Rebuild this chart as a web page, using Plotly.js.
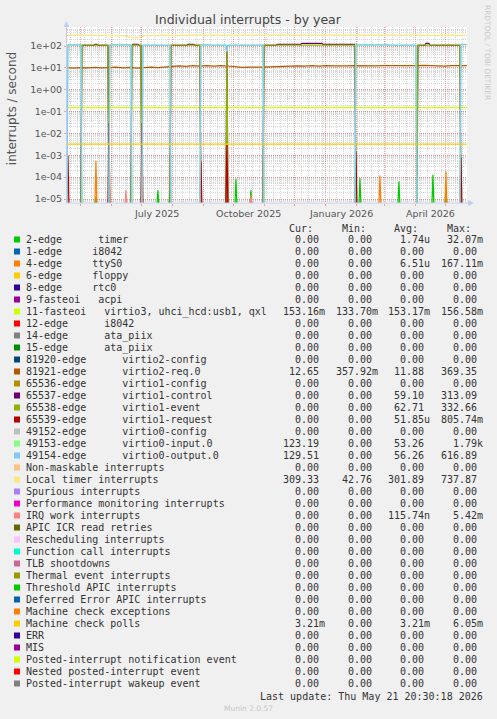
<!DOCTYPE html>
<html><head><meta charset="utf-8">
<script src="https://cdn.plot.ly/plotly-3.0.1.min.js"></script>
<style>html,body{margin:0;padding:0;background:#f0f0f0;}#chart{width:497px;height:719px;}</style>
</head><body><div id="chart"></div>
<script>
// ---------------- DATA ----------------
const RANGE_START = "2025-04-17 02:00", RANGE_END = "2026-05-22 02:00";
const DATA_START = "2025-04-16 20:30", DATA_END = "2026-05-21 20:30";

const seriesLabels = [
 "2-edge      timer","1-edge     i8042","4-edge     ttyS0","6-edge     floppy","8-edge     rtc0",
 "9-fasteoi   acpi","11-fasteoi   virtio3, uhci_hcd:usb1, qxl","12-edge      i8042","14-edge      ata_piix","15-edge      ata_piix",
 "81920-edge      virtio2-config","81921-edge      virtio2-req.0","65536-edge      virtio1-config","65537-edge      virtio1-control","65538-edge      virtio1-event",
 "65539-edge      virtio1-request","49152-edge      virtio0-config","49153-edge      virtio0-input.0","49154-edge      virtio0-output.0","Non-maskable interrupts",
 "Local timer interrupts","Spurious interrupts","Performance monitoring interrupts","IRQ work interrupts","APIC ICR read retries",
 "Rescheduling interrupts","Function call interrupts","TLB shootdowns","Thermal event interrupts","Threshold APIC interrupts",
 "Deferred Error APIC interrupts","Machine check exceptions","Machine check polls","ERR","MIS",
 "Posted-interrupt notification event","Nested posted-interrupt event","Posted-interrupt wakeup event"];

const seriesColors = ["#00CC00","#0066B3","#FF8000","#FFCC00","#330099","#990099","#CCFF00","#FF0000","#808080","#008F00",
 "#00487D","#B35A00","#B38F00","#6B006B","#8FB300","#B30000","#BEBEBE","#80FF80","#80C9FF","#FFC080",
 "#FFE680","#AA80FF","#EE00CC","#FF8080","#666600","#FFBFFF","#00FFCC","#CC6699","#999900","#00CC00",
 "#0066B3","#FF8000","#FFCC00","#330099","#990099","#CCFF00","#FF0000","#808080"];

const curVals = ["0.00","0.00","0.00","0.00","0.00","0.00","153.16m","0.00","0.00","0.00","0.00","12.65","0.00","0.00","0.00","0.00","0.00","123.19","129.51","0.00","309.33","0.00","0.00","0.00","0.00","0.00","0.00","0.00","0.00","0.00","0.00","0.00","3.21m","0.00","0.00","0.00","0.00","0.00"];
const minVals = ["0.00","0.00","0.00","0.00","0.00","0.00","133.70m","0.00","0.00","0.00","0.00","357.92m","0.00","0.00","0.00","0.00","0.00","0.00","0.00","0.00","42.76","0.00","0.00","0.00","0.00","0.00","0.00","0.00","0.00","0.00","0.00","0.00","0.00","0.00","0.00","0.00","0.00","0.00"];
const avgVals = ["1.74u","0.00","6.51u","0.00","0.00","0.00","153.17m","0.00","0.00","0.00","0.00","11.88","0.00","59.10","62.71","51.85u","0.00","53.26","56.26","0.00","301.89","0.00","0.00","115.74n","0.00","0.00","0.00","0.00","0.00","0.00","0.00","0.00","3.21m","0.00","0.00","0.00","0.00","0.00"];
const maxVals = ["32.07m","0.00","167.11m","0.00","0.00","0.00","156.58m","0.00","0.00","0.00","0.00","369.35","0.00","313.09","332.66","805.74m","0.00","1.79k","616.89","0.00","737.87","0.00","0.00","5.42m","0.00","0.00","0.00","0.00","0.00","0.00","0.00","0.00","6.05m","0.00","0.00","0.00","0.00","0.00"];

// weekly samples for the continuous series
const weekDates = ["2025-04-16","2025-04-24","2025-05-01","2025-05-08","2025-05-15","2025-05-22","2025-05-29","2025-06-05","2025-06-12","2025-06-19",
 "2025-06-26","2025-07-03","2025-07-10","2025-07-17","2025-07-24","2025-07-31","2025-08-07","2025-08-14","2025-08-21","2025-08-28",
 "2025-09-04","2025-09-11","2025-09-18","2025-09-25","2025-10-02","2025-10-09","2025-10-16","2025-10-23","2025-10-30","2025-11-06",
 "2025-11-13","2025-11-20","2025-11-27","2025-12-04","2025-12-11","2025-12-18","2025-12-25","2026-01-01","2026-01-08","2026-01-15",
 "2026-01-22","2026-01-29","2026-02-05","2026-02-12","2026-02-19","2026-02-26","2026-03-05","2026-03-12","2026-03-19","2026-03-26",
 "2026-04-02","2026-04-09","2026-04-16","2026-04-23","2026-04-30","2026-05-07","2026-05-14","2026-05-21 20:30"];
const localTimer = [322,318,321,316,319,317,300,292,302,255, 238,292,306,311,314,309,317,312,316,319,
 315,321,316,305,311,316,318,313,316,318, 320,316,319,321,315,318,320,317,315,319,
 321,316,318,320,317,315,319,321,316,318, 314,311,302,310,315,318,312,309];
const virtio2Req = [10.5,9.8,10.4,9.9,10.6,9.9,10.3,10.8,10.1,10.5, 9.7,10.6,10.9,10.4,11.2,11.8,12.3,11.6,12.8,12.1,
 12.6,11.9,12.7,12.2,11.3,10.6,10.9,10.5,10.8,11.2, 11.6,12.0,11.7,12.3,12.0,12.6,12.2,12.8,12.4,12.9,
 12.5,12.7,12.4,12.6,12.3,12.7,12.5,12.8,12.4,12.9, 12.6,13.1,12.5,12.9,11.9,12.8,12.3,12.65];

const timerX = ["2025-04-16 20:30","2025-05-15","2025-05-16","2025-05-17","2025-05-28","2025-05-29","2025-05-30","2025-07-16","2025-07-17","2025-07-18",
 "2025-07-28","2025-07-29","2025-07-30","2025-10-02","2025-10-03","2025-10-04","2025-10-17","2025-10-18","2025-10-19","2026-02-03",
 "2026-02-04","2026-02-05","2026-03-14","2026-03-15","2026-03-16","2026-04-17","2026-04-18","2026-04-19","2026-04-30","2026-05-01",
 "2026-05-02","2026-05-21 20:30"];
const timerY = [0,0,1.3e-5,0,0,1.4e-5,0,0,2.5e-5,0, 0,2.4e-5,0,0,8.5e-5,0,0,2.5e-5,0,0, 9e-5,0,0,6.3e-5,0,0,1.3e-4,0,0,2e-5, 0,0];

const ttyX = ["2025-04-16 20:30","2025-05-15","2025-05-16","2025-05-17","2026-02-23","2026-02-24","2026-02-25","2026-04-30","2026-05-01","2026-05-02","2026-05-21 20:30"];
const ttyY = [0,0,5.5e-4,0,0,1.2e-4,0,0,1.8e-4,0,0];

const irqWorkX = ["2025-04-16 20:30","2025-06-14","2025-06-15","2025-06-16","2025-10-17","2025-10-18","2025-10-19","2026-05-21 20:30"];
const irqWorkY = [0,0,2.5e-5,0,0,1.5e-5,0,0];

const requestX = ["2025-04-16 20:30","2025-04-17","2025-04-18","2025-04-19","2025-05-28","2025-05-29","2025-05-30","2025-06-30","2025-07-01","2025-07-02",
 "2025-08-28","2025-08-29","2025-08-30","2025-09-23","2025-09-24","2025-09-25","2026-01-30","2026-01-31","2026-02-01","2026-05-15",
 "2026-05-16","2026-05-17","2026-05-21 20:30"];
const requestY = [0,0,1e-3,0,0,0.03,0,0,0.03,0, 0,5e-4,0,0,3e-3,0,0,1.5e-3,0,0, 8e-4,0,0];

const fasteoiX = [DATA_START, DATA_END];
const fasteoiY = [0.1532, 0.1532];
const mcpX = [DATA_START, DATA_END];
const mcpY = [0.00321, 0.00321];

const inputX = ["2025-04-16 20:30","2025-04-17","2025-04-18","2025-05-01","2025-05-02","2025-05-29","2025-05-30","2025-06-20","2025-06-21","2025-07-01",
 "2025-07-02","2025-07-29","2025-07-30","2025-08-28","2025-08-29","2025-09-07","2025-09-08","2025-09-23","2025-09-24","2025-09-25",
 "2025-10-30","2025-10-31","2026-01-30","2026-01-31","2026-03-04","2026-03-05","2026-04-01","2026-04-02","2026-05-15","2026-05-16","2026-05-21 20:30"];
const inputY = [0,0,115,115,0,0,115,115,0,0, 106,106,0,0,115,115,106,106,55,106, 106,0,0,115,115,106,106,0,0,112,112];

const outputX = ["2025-04-16 20:30","2025-04-17","2025-04-18","2025-05-01","2025-05-02","2025-05-29","2025-05-30","2025-06-20","2025-06-21","2025-07-01",
 "2025-07-02","2025-07-29","2025-07-30","2025-08-28","2025-08-29","2025-09-23","2025-09-24","2025-09-25","2025-10-30","2025-10-31",
 "2026-01-30","2026-01-31","2026-04-01","2026-04-02","2026-05-15","2026-05-16","2026-05-21 20:30"];
const outputY = [0,0,110,110,0,0,110,110,0,0, 110,110,0,0,110,110,60,110,110,0, 0,110,110,0,0,118,118];

const eventX = ["2025-04-16 20:30","2025-05-01","2025-05-02","2025-05-28","2025-05-29","2025-06-20","2025-06-21","2025-06-30","2025-07-01","2025-07-29",
 "2025-07-30","2025-08-28","2025-08-29","2025-09-23","2025-09-24","2025-09-25","2025-10-30","2025-10-31","2026-01-30","2026-01-31",
 "2026-04-02","2026-04-03","2026-05-15","2026-05-16","2026-05-21 20:30"];
const eventY = [0,0,110,110,0,0,110,110,0,0, 110,110,0,0,105,0,0,110,110,0, 0,110,110,0,0];

const controlX = ["2025-04-16 20:30","2025-05-01","2025-05-02","2025-05-14","2025-05-15","2025-05-17","2025-05-18","2025-05-28","2025-05-29","2025-06-20",
 "2025-06-21","2025-06-22","2025-06-27","2025-06-28","2025-06-30","2025-07-01","2025-07-29","2025-07-30","2025-08-15","2025-08-16",
 "2025-08-22","2025-08-23","2025-08-28","2025-08-29","2025-09-23","2025-09-24","2025-09-25","2025-10-30","2025-10-31","2025-11-12",
 "2025-11-13","2025-12-07","2025-12-08","2025-12-28","2025-12-29","2026-01-30","2026-01-31","2026-04-02","2026-04-03","2026-04-10",
 "2026-04-11","2026-04-14","2026-04-15","2026-05-15","2026-05-16","2026-05-21 20:30"];
const controlY = [0,0,106,106,120,120,106,106,0,0, 106,120,120,106,106,0,0,106,106,120, 120,106,106,0,0,100,0,0,106,106,
 120,120,133,133,120,120,0,0,106,106, 133,133,106,106,0,0];

const yTickVals = [1e-5,1e-4,1e-3,1e-2,1e-1,1,10,100];
const yTickText = ["1e-05","1e-04","1e-03","1e-02","1e-01","1e+00","1e+01","1e+02"];
const xLabelDates = ["2025-07-16","2025-10-16","2026-01-16","2026-04-16"];
const xLabelText = ["July 2025","October 2025","January 2026","April 2026"];

// ---------------- BUILD ----------------
const seriesData = {
  0:[timerX,timerY], 2:[ttyX,ttyY], 6:[fasteoiX,fasteoiY], 11:[weekDates,virtio2Req],
  13:[controlX,controlY], 14:[eventX,eventY], 15:[requestX,requestY], 17:[inputX,inputY],
  18:[outputX,outputY], 20:[weekDates,localTimer], 23:[irqWorkX,irqWorkY], 32:[mcpX,mcpY]
};
const LOG_FLOOR = 5e-6; // zero is drawn below the bottom edge on the log scale (like rrdtool)
const traces = seriesLabels.map((lab,i)=>{
  const d = seriesData[i] || [[DATA_START,DATA_END],[0,0]];
  return {type:'scatter', mode:'lines', x:d[0], y:d[1].map(v=> v>0 ? v : LOG_FLOOR),
    line:{color:seriesColors[i], width:1.25}, hoverinfo:'skip', showlegend:false, name:lab};
});

const ML=67, MT=27, PW=400, PH=176;
const px = p => (p-ML)/PW;
const py = p => 1-(p-MT)/PH;

const annotations = [];
const shapes = [];
const monoFont = {family:'DejaVu Sans Mono', size:10, color:'#333'};
const nb = s => s.replace(/ /g,'\u00a0');

// x tick labels
xLabelDates.forEach((d,i)=>annotations.push({xref:'x', yref:'paper', x:d, y:py(213), text:xLabelText[i],
  showarrow:false, xanchor:'center', yanchor:'middle', borderpad:0, borderwidth:0,
  font:{family:'DejaVu Sans', size:9.5, color:'#555'}}));

// legend header
const colEnds = [318.5, 372, 424.3, 477];
["Cur:","Min:","Avg:","Max:"].forEach((h,c)=>annotations.push({xref:'paper', yref:'paper', x:px(colEnds[c]-6), y:py(228.5),
  text:h, showarrow:false, xanchor:'right', yanchor:'middle', borderpad:0, borderwidth:0, font:monoFont}));

const cols = [curVals,minVals,avgVals,maxVals];
seriesLabels.forEach((lab,i)=>{
  const ry = 239.5 + 12*i;
  shapes.push({type:'rect', xref:'paper', yref:'paper', x0:px(14), x1:px(20), y0:py(ry-3), y1:py(ry+3),
    fillcolor:seriesColors[i], line:{width:0}});
  annotations.push({xref:'paper', yref:'paper', x:px(26), y:py(ry), text:nb(lab), showarrow:false,
    xanchor:'left', yanchor:'middle', borderpad:0, borderwidth:0, font:monoFont});
  cols.forEach((arr,c)=>{
    const v = arr[i];
    const hasUnit = /[a-zA-Z]$/.test(v);
    annotations.push({xref:'paper', yref:'paper', x:px(colEnds[c] + (hasUnit?6:0)), y:py(ry), text:v, showarrow:false,
      xanchor:'right', yanchor:'middle', borderpad:0, borderwidth:0, font:monoFont});
  });
});

annotations.push({xref:'paper', yref:'paper', x:px(483), y:py(696), text:nb('Last update: Thu May 21 20:30:18 2026'),
  showarrow:false, xanchor:'right', yanchor:'middle', borderpad:0, borderwidth:0, font:monoFont});
annotations.push({xref:'paper', yref:'paper', x:px(248), y:py(708.5), text:'Munin 2.0.57',
  showarrow:false, xanchor:'center', yanchor:'middle', borderpad:0, borderwidth:0, font:{family:'DejaVu Sans', size:7.5, color:'#c8c8c8'}});
annotations.push({xref:'paper', yref:'paper', x:px(487.5), y:py(52.5), text:'RRDTOOL / TOBI OETIKER', textangle:90,
  showarrow:false, xanchor:'center', yanchor:'middle', borderpad:0, borderwidth:0, font:{family:'DejaVu Sans', size:7.4, color:'#c8c8c8'}});
annotations.push({xref:'paper', yref:'paper', x:px(11.7), y:py(108.5), text:'interrupts / second', textangle:-90,
  showarrow:false, xanchor:'center', yanchor:'middle', borderpad:0, borderwidth:0, font:{family:'DejaVu Sans', size:12, color:'#555'}});

// rrdtool-style axes with arrows
const axisCol = '#c6cbe8';
shapes.push({type:'line', xref:'paper', yref:'paper', x0:px(66.5), x1:px(470), y0:py(203), y1:py(203), line:{color:axisCol, width:1}});
shapes.push({type:'line', xref:'paper', yref:'paper', x0:px(66.5), x1:px(66.5), y0:py(203), y1:py(24), line:{color:axisCol, width:1}});
shapes.push({type:'path', xref:'paper', yref:'paper',
  path:`M ${px(468)} ${py(200)} L ${px(474)} ${py(203)} L ${px(468)} ${py(206)} Z`, fillcolor:'#c0cdf5', line:{width:0}});
shapes.push({type:'path', xref:'paper', yref:'paper',
  path:`M ${px(63.5)} ${py(27)} L ${px(66.5)} ${py(21)} L ${px(69.5)} ${py(27)} Z`, fillcolor:'#c0cdf5', line:{width:0}});

const layout = {
  width:497, height:719, paper_bgcolor:'#f0f0f0', plot_bgcolor:'#ffffff',
  margin:{l:ML, r:497-ML-PW, t:MT, b:719-MT-PH, pad:0},
  showlegend:false,
  title:{text:'Individual interrupts - by year', font:{family:'DejaVu Sans', size:12.5, color:'#444'},
    x:248/497, xanchor:'center', xref:'container', y:1-19.5/719, yanchor:'middle', yref:'container'},
  xaxis:{type:'date', range:[RANGE_START, RANGE_END], tickmode:'linear', tick0:'2025-05-01', dtick:'M1',
    showticklabels:false, ticks:'outside', ticklen:2, tickcolor:'#f0a0a0',
    showgrid:true, gridcolor:'rgba(235,90,90,0.55)', griddash:'1px,1px', gridwidth:1,
    minor:{tickmode:'linear', tick0:'2025-04-21', dtick:7*86400000, showgrid:true, gridcolor:'#d6d6d6', griddash:'1px,1px', ticks:''},
    zeroline:false, showline:false, fixedrange:true},
  yaxis:{type:'log', range:[-5.183, 2.871], tickmode:'array', tickvals:yTickVals, ticktext:yTickText,
    ticks:'outside', ticklen:2, tickcolor:'#f0a0a0',
    tickfont:{family:'DejaVu Sans', size:9.5, color:'#555'},
    showgrid:true, gridcolor:'rgba(235,90,90,0.55)', griddash:'1px,1px', gridwidth:1,
    minor:{tickmode:'linear', dtick:'D1', showgrid:true, gridcolor:'#d6d6d6', griddash:'1px,1px', ticks:''},
    zeroline:false, showline:false, fixedrange:true},
  annotations, shapes
};
Plotly.newPlot('chart', traces, layout, {staticPlot:true, displayModeBar:false});
</script></body></html>
